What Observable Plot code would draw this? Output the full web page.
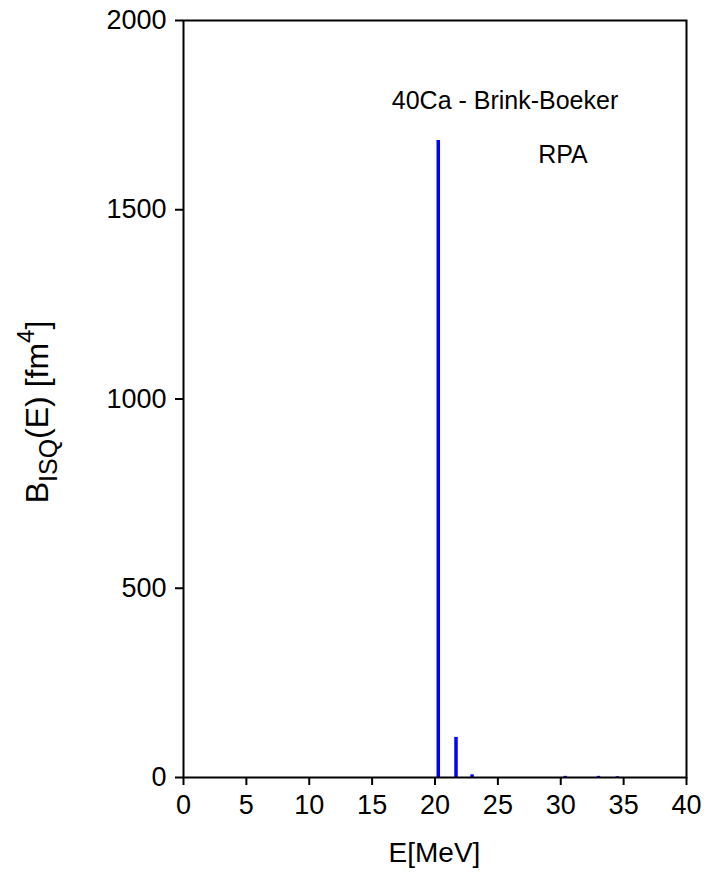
<!DOCTYPE html>
<html>
<head>
<meta charset="utf-8">
<script src="https://cdn.jsdelivr.net/npm/d3@7"></script>
<script src="https://cdn.jsdelivr.net/npm/@observablehq/plot@0.6"></script>
<style>
  html, body { margin: 0; padding: 0; background: #fff; }
  #chart svg { display: block; }
</style>
</head>
<body>
<div id="chart"></div>
<script>
// Data
const energies = [20.26, 21.67, 22.95, 30.36, 33.0, 34.5];   // E [MeV]
const strengths = [1683, 106, 7, 3, 3, 2];                   // B_ISQ(E) [fm^4]
const xTicks = [0, 5, 10, 15, 20, 25, 30, 35, 40];
const yTicks = [0, 500, 1000, 1500, 2000];
const titleLines = ["40Ca - Brink-Boeker", "RPA"];

const data = energies.map((e, i) => ({E: e, B: strengths[i]}));

const W = 712, H = 879;
const font = "'Liberation Sans', Arial, sans-serif";

const plot = Plot.plot({
  width: W,
  height: H,
  marginLeft: 183,
  marginRight: 26,
  marginTop: 20,
  marginBottom: 102,
  style: {fontFamily: font, fontSize: "27px", color: "#000", background: "#fff"},
  x: {domain: [0, 40], ticks: xTicks, label: null},
  y: {domain: [0, 2000], ticks: yTicks, label: null},
  marks: [
    Plot.ruleX(data, {x: "E", y1: 0, y2: "B", stroke: "#0000ff", strokeWidth: 3.5}),
    Plot.axisX({ticks: xTicks, tickSize: 8, tickPadding: 9, strokeWidth: 2, fontSize: 27, tickFormat: d => String(d), label: null}),
    Plot.axisY({ticks: yTicks, tickSize: 8, tickPadding: 9, strokeWidth: 2, fontSize: 27, tickFormat: d => String(d), label: null}),
    Plot.frame({stroke: "#000", strokeWidth: 2}),
    Plot.text([titleLines[0]], {frameAnchor: "top", dx: 70, dy: 88, lineAnchor: "bottom", fontSize: 25, fill: "#000"}),
    Plot.text([titleLines[1]], {frameAnchor: "top", dx: 128, dy: 142, lineAnchor: "bottom", fontSize: 25, fill: "#000"})
  ]
});

document.getElementById("chart").appendChild(plot);

const svg = d3.select(plot);
// x-axis title
svg.append("text")
  .attr("x", (183 + (W - 26)) / 2)
  .attr("y", 862)
  .attr("text-anchor", "middle")
  .attr("font-family", font)
  .attr("font-size", 28)
  .attr("fill", "#000")
  .text("E[MeV]");

// y-axis title with subscript / superscript
const yl = svg.append("text")
  .attr("transform", "translate(48,412) rotate(-90)")
  .attr("text-anchor", "middle")
  .attr("font-family", font)
  .attr("font-size", 32)
  .attr("fill", "#000");
yl.append("tspan").text("B");
yl.append("tspan").attr("dy", 9).attr("font-size", 25).text("ISQ");
yl.append("tspan").attr("dy", -9).text("(E) [fm");
yl.append("tspan").attr("dy", -14).attr("font-size", 24).text("4");
yl.append("tspan").attr("dy", 14).text("]");
</script>
</body>
</html>
